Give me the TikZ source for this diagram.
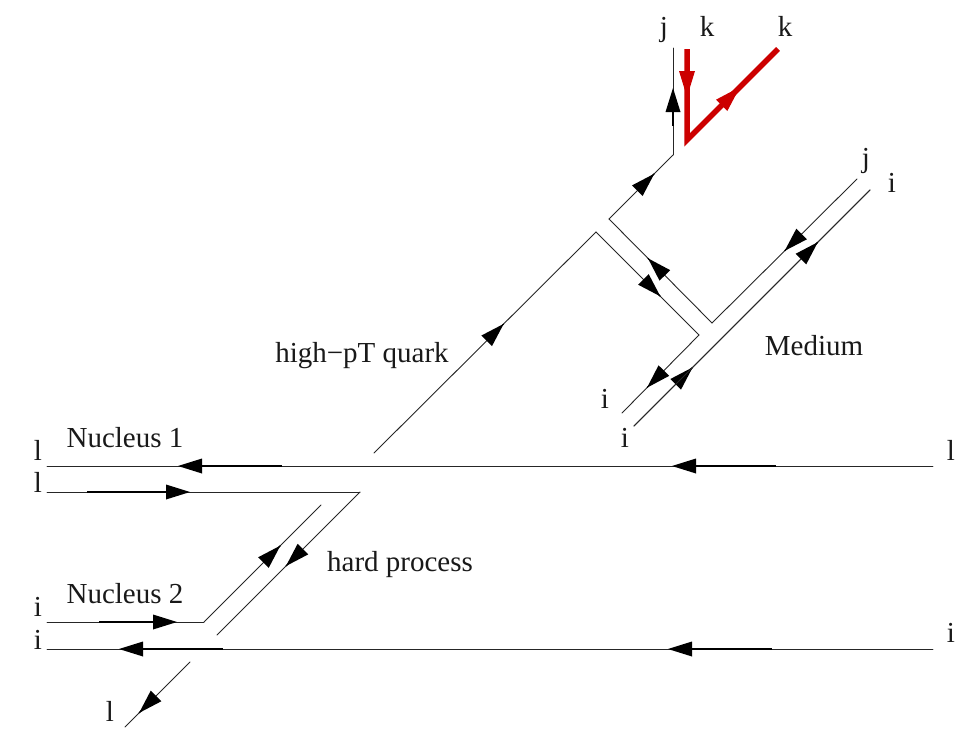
\documentclass[tikz,border=0pt]{standalone}
\usepackage{fontspec}
\setmainfont{Liberation Serif}
\usetikzlibrary{decorations.markings}
\tikzset{
  x=1pt,y=-1pt,
  ln/.style={line width=0.9pt,color=black!85,line cap=round},
  redln/.style={line width=5.5pt,color=red!80!black,line join=miter},
  ah/.style 2 args={postaction={decorate,decoration={markings,mark=at position #1pt with {
    \draw[line width=1.1pt,black,line cap=butt] (-#2pt,0pt)--(-10pt,0pt);
    \fill[black] (0pt,0pt)--(-24pt,7.5pt)--(-24pt,-7.5pt)--cycle;}}}},
  rah/.style={postaction={decorate,decoration={markings,mark=at position #1pt with {
    \fill (0pt,0pt)--(-26pt,8pt)--(-26pt,-8pt)--cycle;}}}},
  lab/.style={anchor=base,inner sep=0pt,font=\fontsize{29pt}{31pt}\selectfont,text=black!90}
}
\begin{document}
\begin{tikzpicture}
\useasboundingbox (0,0) rectangle (966,728);
% vertices
\coordinate (tr1) at (933,466); \coordinate (tl1) at (47,466);
\coordinate (a0) at (47,492); \coordinate (a1) at (360,492); \coordinate (a2) at (217,635);
\coordinate (b0) at (47,622); \coordinate (b1) at (204,622); \coordinate (b2) at (321,505);
\coordinate (c0) at (933,649); \coordinate (c1) at (47,649);
\coordinate (d0) at (190,662); \coordinate (d1) at (125,727);
\coordinate (q0) at (374,453); \coordinate (q1) at (596,232); \coordinate (q2) at (699,335); \coordinate (q3) at (622,413);
\coordinate (m0) at (634,426); \coordinate (m1) at (870,190);
\coordinate (n0) at (857,179); \coordinate (n1) at (712,323); \coordinate (n2) at (609,219); \coordinate (n3) at (673,155); \coordinate (n4) at (673,48);
\coordinate (r0) at (687,49); \coordinate (r1) at (687,140); \coordinate (r2) at (778,49);
% quark lines
\draw[ln,ah={755}{104},ah={261}{104}] (tr1) -- (tl1);
\draw[ln,ah={143}{103}] (a0) -- (a1);
\draw[ln,ah={104.7}{0}] (a1) -- (a2);
\draw[ln,ah={130}{78}] (b0) -- (b1);
\draw[ln,ah={108}{0}] (b1) -- (b2);
\draw[ln,ah={265}{104},ah={814}{104}] (c0) -- (c1);
\draw[ln,ah={72}{0}] (d0) -- (d1);
\draw[ln,ah={183}{0}] (q0) -- (q1);
\draw[ln,ah={91}{0}] (q1) -- (q2);
\draw[ln,ah={74}{0}] (q2) -- (q3);
\draw[ln,ah={83}{0}] (m0) -- (m1);
\draw[ln,ah={260}{0}] (m0) -- (m1);
\draw[ln,ah={102}{0}] (n0) -- (n1);
\draw[ln,ah={91}{0}] (n1) -- (n2);
\draw[ln,ah={64}{0}] (n2) -- (n3);
\draw[ln,ah={67}{38}] (n3) -- (n4);
\draw[redln,rah={48},rah={166}] (r0) -- (r1) -- (r2);
% labels
\node[lab] (lj) at (664,36) {j};
\node[lab] (lk1) at (707,36) {k};
\node[lab] (lk2) at (785,36) {k};
\node[lab] (lj2) at (866,167) {j};
\node[lab] (li2) at (892,192) {i};
\node[lab] (lmed) at (814,355) {Medium};
\node[lab] (li3) at (605,408) {i};
\node[lab] (li4) at (625,447) {i};
\node[lab] (ll1) at (951,460) {l};
\node[lab] (lhq) at (362,362) {high−pT quark};
\node[lab] (ln1) at (125,447) {Nucleus 1};
\node[lab] (ll2) at (38,460) {l};
\node[lab] (ll3) at (38,492) {l};
\node[lab] (lhp) at (400,571) {hard process};
\node[lab] (ln2) at (125,603) {Nucleus 2};
\node[lab] (li5) at (38,616) {i};
\node[lab] (li6) at (38,649) {i};
\node[lab] (li7) at (951,642) {i};
\node[lab] (ll4) at (110,721) {l};
\end{tikzpicture}
\end{document}
